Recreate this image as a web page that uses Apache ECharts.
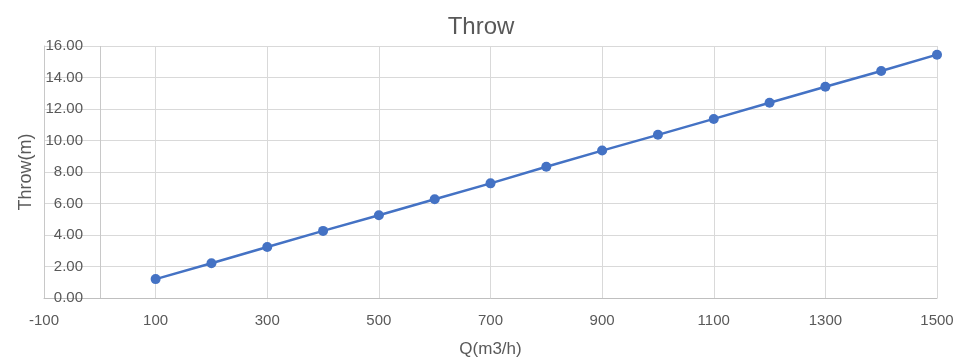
<!DOCTYPE html>
<html>
<head>
<meta charset="utf-8">
<script src="https://cdn.jsdelivr.net/npm/echarts@6/dist/echarts.min.js"></script>
<style>html,body{margin:0;padding:0;background:#fff}#c{width:962px;height:363px}</style>
</head>
<body>
<div id="c"></div>
<script>
var flowQ = [100, 200, 300, 400, 500, 600, 700, 800, 900, 1000, 1100, 1200, 1300, 1400, 1500];
var throwM = [1.2, 2.21, 3.24, 4.26, 5.25, 6.27, 7.28, 8.33, 9.36, 10.36, 11.37, 12.4, 13.41, 14.41, 15.45];
var titleText = 'Throw';
var xName = 'Q(m3/h)';
var yName = 'Throw(m)';

var FONT = '"Liberation Sans", Arial, sans-serif';
var TXT = '#595959';
var chart = echarts.init(document.getElementById('c'));
chart.setOption({
  animation: false,
  title: { text: titleText, left: 'center', top: 10,
    textStyle: { fontFamily: FONT, fontSize: 24, fontWeight: 'normal', color: TXT } },
  grid: { left: 44, right: 25, top: 46, bottom: 64, containLabel: false },
  xAxis: {
    type: 'value', min: -100, max: 1500, interval: 200,
    name: xName, nameLocation: 'middle', nameGap: 43,
    nameTextStyle: { fontFamily: FONT, fontSize: 17, color: TXT },
    axisLine: { show: true, onZero: false, lineStyle: { color: '#BFBFBF', width: 1 } },
    axisTick: { show: false },
    axisLabel: { fontFamily: FONT, fontSize: 15, color: TXT, margin: 15,
      formatter: function (v) { return String(v); } },
    splitLine: { show: true, lineStyle: { color: '#D9D9D9', width: 1 } }
  },
  yAxis: {
    type: 'value', min: 0, max: 16, interval: 2,
    name: yName, nameLocation: 'middle', nameGap: 6,
    nameTextStyle: { fontFamily: FONT, fontSize: 18, color: TXT },
    axisLine: { show: true, onZero: false, lineStyle: { color: '#C8C8C8', width: 1 } },
    axisTick: { show: false },
    axisLabel: { inside: true, align: 'right', margin: 39, fontFamily: FONT, fontSize: 15, color: TXT,
      formatter: function (v) { return v.toFixed(2); } },
    splitLine: { show: true, lineStyle: { color: '#D9D9D9', width: 1 } }
  },
  series: [{
    type: 'line',
    data: flowQ.map(function (q, i) { return [q, throwM[i]]; }),
    symbol: 'circle', symbolSize: 10,
    lineStyle: { color: '#4472C4', width: 2.5 },
    itemStyle: { color: '#4472C4' },
    z: 5,
    markLine: {
      silent: true, symbol: 'none', label: { show: false },
      lineStyle: { color: '#C8C8C8', width: 1, type: 'solid' },
      data: [{ xAxis: 0 }]
    }
  }]
});
</script>
</body>
</html>
